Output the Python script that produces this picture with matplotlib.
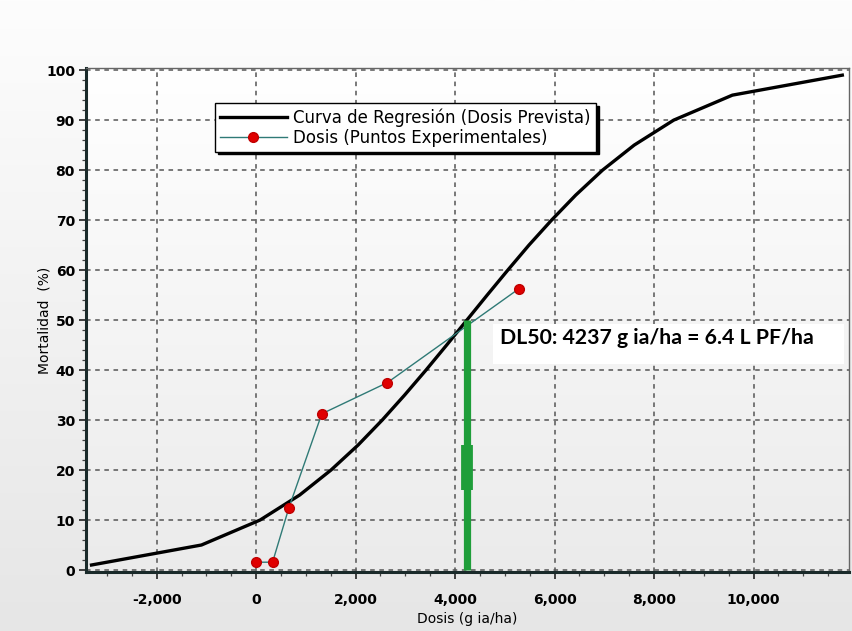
import numpy as np
import matplotlib
matplotlib.use('Agg')
import matplotlib.pyplot as plt
from matplotlib.ticker import MultipleLocator, FuncFormatter
from matplotlib.patches import Rectangle

# regression curve (predicted dose for each mortality level)
curva_mort = [1, 5, 10, 15, 20, 25, 30, 35, 40, 45, 50, 55, 60, 65, 70, 75, 80, 85, 90, 95, 99]
curva_dosis = [-3310, -1100, 80, 875, 1505, 2050, 2535, 2985, 3415, 3830, 4237,
               4645, 5060, 5485, 5940, 6425, 6965, 7600, 8395, 9575, 11785]

# experimental points
exp_dosis = [0, 330, 660, 1320, 2640, 5280]
exp_mort = [1.56, 1.56, 12.5, 31.25, 37.5, 56.25]

dl50 = 4237
dl50_txt = 'DL50: 4237 g ia/ha = 6.4 L PF/ha'

fig = plt.figure(figsize=(8.52, 6.31), dpi=100)

# soft grey background behind everything
bg = fig.add_axes([0, 0, 1, 1], zorder=-10)
grad = np.linspace(0, 1, 256).reshape(-1, 1)
bg.imshow(grad, extent=[0, 1, 0, 1], aspect='auto', origin='upper',
          cmap=matplotlib.colors.LinearSegmentedColormap.from_list('bg', ['#fdfdfd', '#e6e6e6']))
bg.axis('off')

ax = fig.add_axes([0.101, 0.0935, 0.8955, 0.7985])
ax.set_facecolor('none')
ax.imshow(grad, extent=[0, 1, 0, 1], aspect='auto', origin='upper', transform=ax.transAxes,
          cmap=matplotlib.colors.LinearSegmentedColormap.from_list('ax', ['#ffffff', '#ebebeb']),
          zorder=-5)

ax.set_xlim(-3420, 11920)
ax.set_ylim(-0.4, 100.4)

ax.grid(True, which='major', color='#555555', linestyle=(0, (3, 3)), linewidth=1.1)
ax.set_axisbelow(True)

ax.plot(curva_dosis, curva_mort, color='black', linewidth=2.4, zorder=3,
        label='Curva de Regresión (Dosis Prevista)')
ax.plot(exp_dosis, exp_mort, color='#2f7a76', linewidth=1.0, marker='o', markersize=7,
        markerfacecolor='#e00000', markeredgecolor='#c00000', zorder=4,
        label='Dosis (Puntos Experimentales)')

# DL50 marker
ax.plot([dl50, dl50], [0, 50], color='#1f9e3a', linewidth=5.2, solid_capstyle='butt', zorder=5)
ax.plot([dl50, dl50], [16, 25], color='#1f9e3a', linewidth=8.5, solid_capstyle='butt', zorder=5)

ax.add_patch(Rectangle((0.534, 0.413), 0.46, 0.08, transform=ax.transAxes,
                       facecolor='white', edgecolor='none', zorder=6))
ax.text(0.542, 0.465, dl50_txt, transform=ax.transAxes, fontsize=15.3, fontweight='bold',
        family=['Lato', 'DejaVu Sans'], va='center', ha='left', zorder=7)

ax.xaxis.set_major_locator(MultipleLocator(2000))
ax.xaxis.set_minor_locator(MultipleLocator(500))
ax.yaxis.set_major_locator(MultipleLocator(10))
ax.yaxis.set_minor_locator(MultipleLocator(2))
ax.xaxis.set_major_formatter(FuncFormatter(lambda v, p: f'{int(v):,}'))
ax.yaxis.set_major_formatter(FuncFormatter(lambda v, p: f'{int(v)}'))

ax.tick_params(which='major', length=5, width=1.2, color='#222222', labelsize=10, pad=3)
ax.tick_params(which='minor', length=3, width=0.9, color='#444444')
for lbl in ax.get_xticklabels() + ax.get_yticklabels():
    lbl.set_fontweight('bold')
ax.tick_params(axis='x', pad=10)

for side in ['left', 'bottom']:
    ax.spines[side].set_linewidth(2.2)
    ax.spines[side].set_color('#1a2a2a')
for side in ['top', 'right']:
    ax.spines[side].set_linewidth(1.0)
    ax.spines[side].set_color('#666666')

ax.set_xlabel('Dosis (g ia/ha)', fontsize=10, labelpad=4)
ax.set_ylabel('Mortalidad  (%)', fontsize=10, labelpad=-4)

leg = ax.legend(loc='upper left', bbox_to_anchor=(0.169, 0.93), fontsize=12,
                handlelength=4.0, handletextpad=0.4, borderpad=0.3, labelspacing=0.1,
                borderaxespad=0, fancybox=False, shadow={'color': 'black', 'alpha': 1.0},
                framealpha=1, edgecolor='black')
leg.get_frame().set_linewidth(1.0)
leg.set_zorder(10)

fig.savefig('out.png', dpi=100)
